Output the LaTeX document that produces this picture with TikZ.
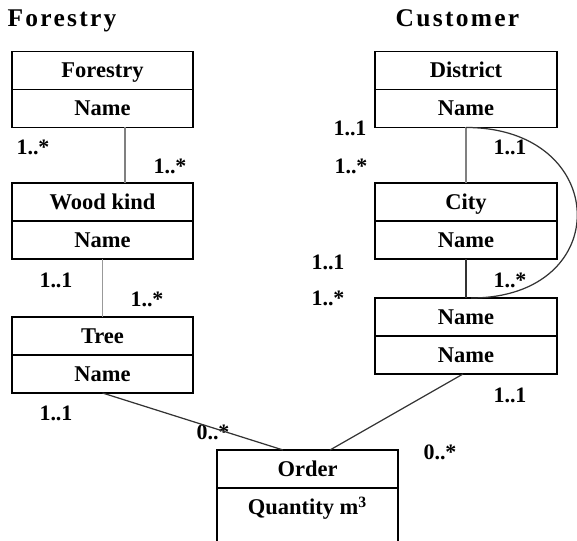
\documentclass[tikz,border=0pt]{standalone}
\usepackage{fontspec}
\setmainfont{Liberation Serif}
\newfontfamily\titlefont[LetterSpace=9]{Liberation Serif}
\usetikzlibrary{calc}
\tikzset{>=latex}
\tikzset{
  cell/.style = {draw, line width = 0.9pt, minimum width = 3.63cm, minimum height = 0.76cm, inner sep = 0pt, outer sep = 0pt, text height = 8.5pt, text depth = 0pt, font = \fontsize{12.8}{14}\selectfont\bfseries},
  mult/.style = {inner sep = 0pt, font = \fontsize{12.5}{14}\selectfont\bfseries},
  link/.style = {line width = 0.7pt, black!80},
  heading/.style = {inner sep = 0pt, text height = 9.6pt, text depth = 0pt, font = \fontsize{14.5}{16}\titlefont\bfseries},
}

\begin{document}
\begin{tikzpicture}[scale = 1]
\useasboundingbox (0,0) rectangle (11.54, 10.82) ;

% titles
\node[heading] (titleF) at (1.24, 10.46) {Forestry};
\node[heading] (titleC) at (9.15, 10.46) {Customer};

% forestry side
\begin{scope}
\node[cell] (forestryA) at (2.05, 9.41) {Forestry};
\node[cell] (forestryB) at (2.05, 8.65) {Name};
\node[cell] (woodA) at (2.05, 6.78) {Wood kind};
\node[cell] (woodB) at (2.05, 6.02) {Name};
\node[cell] (treeA) at (2.05, 4.10) {Tree};
\node[cell] (treeB) at (2.05, 3.34) {Name};
\draw[line width = 1.1pt, black!50] ([xshift = 0.45cm]forestryB.south) -- ([xshift = 0.45cm]woodA.north) ;
\draw[line width = 1pt, black!40] (woodB.south) -- (treeA.north) ;
\node[mult] (m1) at (0.66, 7.88) {1..*};
\node[mult] (m2) at (3.40, 7.50) {1..*};
\node[mult] (m3) at (1.12, 5.22) {1..1};
\node[mult] (m4) at (2.94, 4.84) {1..*};
\node[mult] (m5) at (1.12, 2.56) {1..1};
\node[mult] (m6) at (4.26, 2.18) {0..*};
\end{scope}

% customer side
\begin{scope}
\node[cell] (districtA) at (9.32, 9.41) {District};
\node[cell] (districtB) at (9.32, 8.65) {Name};
\node[cell] (cityA) at (9.32, 6.78) {City};
\node[cell] (cityB) at (9.32, 6.02) {Name};
\node[cell] (nameA) at (9.32, 4.48) {Name};
\node[cell] (nameB) at (9.32, 3.72) {Name};
\draw[line width = 1.1pt, black!50] (districtB.south) -- (cityA.north) ;
\draw[link] (cityB.south) -- (nameA.north) ;
\draw[link] (districtB.south) .. controls +(2.9,0) and +(2.9,0) .. ([xshift = 0.1cm]nameA.north) ;
\node[mult] (m7) at (7.00, 8.26) {1..1};
\node[mult] (m8) at (7.02, 7.50) {1..*};
\node[mult] (m9) at (10.20, 7.88) {1..1};
\node[mult] (m10) at (6.56, 5.58) {1..1};
\node[mult] (m11) at (6.56, 4.86) {1..*};
\node[mult] (m12) at (10.20, 5.22) {1..*};
\node[mult] (m13) at (10.20, 2.92) {1..1};
\node[mult] (m14) at (8.80, 1.78) {0..*};
\end{scope}

% order
\node[cell] (orderA) at (6.15, 1.44) {Order};
\node[cell, minimum height = 1.44cm, anchor = north, text depth = 0.66cm] (orderB) at (orderA.south) {Quantity m\textsuperscript{3}};
\draw[link] (treeB.south) -- ([xshift = -0.49cm]orderA.north) ;
\draw[link] ([xshift = -0.06cm]nameB.south) -- ([xshift = 0.45cm]orderA.north) ;

\end{tikzpicture}
\end{document}
